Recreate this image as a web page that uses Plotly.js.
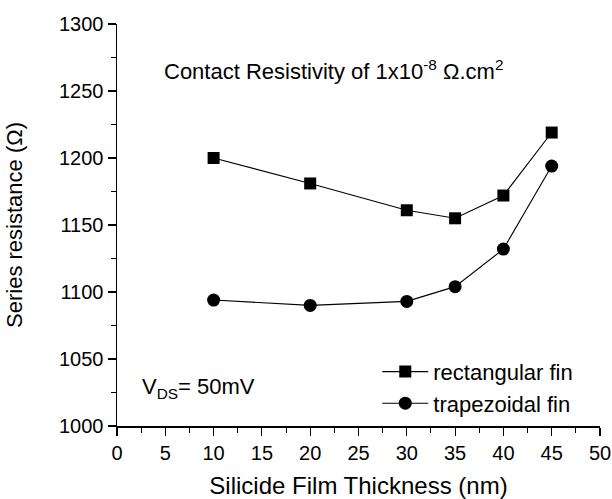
<!DOCTYPE html>
<html>
<head>
<meta charset="utf-8">
<script src="https://cdn.plot.ly/plotly-3.0.1.min.js"></script>
<style>html,body{margin:0;padding:0;background:#fff;}#chart{width:612px;height:499px;}</style>
</head>
<body>
<div id="chart"></div>
<script>
const thickness = [10, 20, 30, 35, 40, 45];
const rectangularFin = [1200, 1181, 1161, 1155, 1172, 1219];
const trapezoidalFin = [1094, 1090, 1093, 1104, 1132, 1194];
const seriesNames = ['rectangular fin', 'trapezoidal fin'];
const xTitle = 'Silicide Film Thickness (nm)';
const yTitle = 'Series resistance (\u03A9)';
const noteTop = 'Contact Resistivity of 1x10<sup>-8</sup> \u03A9.cm<sup>2</sup>';
const noteBottom = 'V<sub>DS</sub>= 50mV';

const FONT = 'Liberation Sans, Arial, sans-serif';
const traces = [
  {x: thickness, y: rectangularFin, name: seriesNames[0], type: 'scatter', mode: 'lines+markers',
   line: {color: '#000', width: 1.1}, marker: {symbol: 'square', size: 12, color: '#000'}},
  {x: thickness, y: trapezoidalFin, name: seriesNames[1], type: 'scatter', mode: 'lines+markers',
   line: {color: '#000', width: 1.1}, marker: {symbol: 'circle', size: 13, color: '#000'}}
];
const axBase = {showgrid: false, zeroline: false, showline: true, linecolor: '#000', linewidth: 1.5,
  tickcolor: '#000', tickwidth: 1.2, ticklen: 8, tickfont: {family: FONT, size: 20, color: '#000'}};
const layout = {
  width: 612, height: 499,
  margin: {l: 117, r: 12, t: 24, b: 73},
  paper_bgcolor: '#fff', plot_bgcolor: '#fff',
  font: {family: FONT, color: '#000'},
  showlegend: true,
  legend: {x: 0.955, xanchor: 'right', y: 0.003, yanchor: 'bottom', bgcolor: 'rgba(0,0,0,0)',
    font: {family: FONT, size: 22, color: '#000'}, tracegroupgap: 0, itemwidth: 46},
  xaxis: Object.assign({}, axBase, {range: [0, 50], dtick: 5, tick0: 0, ticks: 'outside',
    minor: {dtick: 2.5, ticks: 'outside', ticklen: 5, tickcolor: '#000', tickwidth: 1},
    title: {text: xTitle, font: {family: FONT, size: 24, color: '#000'}, standoff: 15}}),
  yaxis: Object.assign({}, axBase, {range: [1000, 1300], dtick: 50, tick0: 1000, ticks: 'outside',
    minor: {dtick: 25, ticks: 'outside', ticklen: 5, tickcolor: '#000', tickwidth: 1},
    title: {text: yTitle, font: {family: FONT, size: 22, color: '#000'}, standoff: 30}}),
  xaxis2: Object.assign({}, axBase, {range: [0, 50], dtick: 5, tick0: 0, ticks: 'inside', overlaying: 'x',
    side: 'top', anchor: 'y', showticklabels: false,
    minor: {dtick: 2.5, ticks: 'outside', ticklen: 3, tickcolor: '#000', tickwidth: 1}}),
  yaxis2: Object.assign({}, axBase, {range: [1000, 1300], dtick: 50, tick0: 1000, ticks: 'inside', overlaying: 'y',
    side: 'right', anchor: 'x', showticklabels: false,
    minor: {dtick: 25, ticks: 'outside', ticklen: 3, tickcolor: '#000', tickwidth: 1}}),
  annotations: [
    {xref: 'paper', yref: 'paper', x: 0.093, y: 0.885, xanchor: 'left', yanchor: 'middle', showarrow: false,
     text: noteTop, font: {family: FONT, size: 22, color: '#000'}},
    {xref: 'paper', yref: 'paper', x: 0.048, y: 0.095, xanchor: 'left', yanchor: 'middle', showarrow: false,
     text: noteBottom, font: {family: FONT, size: 22, color: '#000'}}
  ]
};
Plotly.newPlot('chart', traces, layout, {displayModeBar: false, staticPlot: true});
</script>
</body>
</html>
